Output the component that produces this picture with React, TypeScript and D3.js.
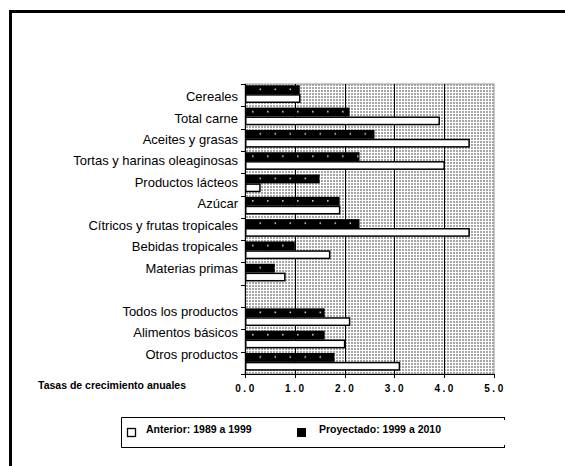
import React from "react";
import * as d3 from "d3";

const categories = [
  "Cereales",
  "Total carne",
  "Aceites y grasas",
  "Tortas y harinas oleaginosas",
  "Productos lácteos",
  "Azúcar",
  "Cítricos y frutas tropicales",
  "Bebidas tropicales",
  "Materias primas",
  "",
  "Todos los productos",
  "Alimentos básicos",
  "Otros productos",
];
const anterior: (number | null)[] = [1.1, 3.9, 4.5, 4.0, 0.3, 1.9, 4.5, 1.7, 0.8, null, 2.1, 2.0, 3.1];
const proyectado: (number | null)[] = [1.1, 2.1, 2.6, 2.3, 1.5, 1.9, 2.3, 1.0, 0.6, null, 1.6, 1.6, 1.8];
const xTicks = [0, 1, 2, 3, 4, 5];
const legendLabels = ["Anterior: 1989 a 1999", "Proyectado: 1999 a 2010"];
const axisTitle = "Tasas de crecimiento anuales";

const W = 565;
const H = 466;
const plot = { left: 245, right: 494, top: 84, bottom: 374 };

export default function App() {
  const x = d3.scaleLinear().domain([0, 5]).range([plot.left, plot.right]);
  const y = d3
    .scaleBand<number>()
    .domain(d3.range(categories.length))
    .range([plot.top, plot.bottom])
    .padding(0);
  const step = y.step();
  const sub = d3.scaleBand<string>().domain(["p", "a"]).range([1.3, 19]).padding(0);
  const labelY = d3
    .scalePoint<number>()
    .domain(d3.range(categories.length))
    .range([96.5, 354]);
  const font = "Liberation Sans, Arial, sans-serif";

  return (
    <svg
      width={W}
      height={H}
      style={{ position: "absolute", left: 0, top: 0, background: "#fff" }}
      fontFamily={font}
    >
      <defs>
        <pattern id="bg" patternUnits="userSpaceOnUse" x={0} y={0} width={3} height={3}>
          <rect width={3} height={3} fill="#fff" />
          <rect width={2} height={2} fill="#a6a6a6" />
        </pattern>
        <pattern
          id="dk"
          patternUnits="userSpaceOnUse"
          x={plot.left}
          y={plot.top}
          width={15}
          height={step * 2}
        >
          <rect width={15} height={step * 2} fill="#000" />
          <rect x={-0.5} y={4.5} width={1.6} height={1.6} fill="#c8c8c8" />
          <rect x={14.5} y={4.5} width={1.6} height={1.6} fill="#c8c8c8" />
          <rect x={7} y={4.5 + step} width={1.6} height={1.6} fill="#c8c8c8" />
        </pattern>
      </defs>

      {/* outer frame */}
      <path d={`M10.5,${H} V11.5 H${W}`} fill="none" stroke="#000" strokeWidth={3} />

      {/* plot background */}
      <rect
        x={plot.left}
        y={plot.top}
        width={plot.right - plot.left}
        height={plot.bottom - plot.top}
        fill="url(#bg)"
        stroke="#9a9a9a"
        strokeWidth={1}
      />

      {/* gridlines */}
      {xTicks.slice(1, -1).map((t) => (
        <line
          key={t}
          x1={Math.round(x(t)) + 0.5}
          x2={Math.round(x(t)) + 0.5}
          y1={plot.top}
          y2={plot.bottom}
          stroke="#000"
          strokeWidth={1}
        />
      ))}

      {/* bars */}
      {categories.map((c, i) => {
        const top = y(i)!;
        const p = proyectado[i];
        const a = anterior[i];
        return (
          <g key={i}>
            {p != null && (
              <rect
                x={x(0)}
                y={top + sub("p")!}
                width={x(p) - x(0)}
                height={sub.bandwidth()}
                fill="url(#dk)"
              />
            )}
            {a != null && (
              <rect
                x={x(0) + 0.75}
                y={top + sub("a")! + 0.75}
                width={x(a) - x(0) - 0.75}
                height={sub.bandwidth() - 1.5}
                fill="#fff"
                stroke="#000"
                strokeWidth={1.5}
              />
            )}
          </g>
        );
      })}

      {/* y axis */}
      <line x1={plot.left + 0.5} x2={plot.left + 0.5} y1={plot.top} y2={plot.bottom} stroke="#000" />
      {d3.range(categories.length + 1).map((i) => {
        const yy = Math.round(plot.top + i * step) + 0.5;
        return <line key={i} x1={plot.left - 4} x2={plot.left} y1={yy} y2={yy} stroke="#000" />;
      })}
      {categories.map((c, i) => (
        <text
          key={i}
          x={238}
          y={labelY(i)! + 4.6}
          textAnchor="end"
          fontSize={13}
          fill="#000"
        >
          {c}
        </text>
      ))}

      {/* x axis */}
      <line x1={plot.left} x2={plot.right} y1={plot.bottom + 0.5} y2={plot.bottom + 0.5} stroke="#000" />
      {xTicks.map((t) => (
        <g key={t}>
          <line
            x1={Math.round(x(t)) + 0.5}
            x2={Math.round(x(t)) + 0.5}
            y1={plot.bottom}
            y2={plot.bottom + 4}
            stroke="#000"
          />
          <text
            x={x(t) + 1}
            y={392}
            textAnchor="middle"
            fontSize={10}
            fontWeight="bold"
            letterSpacing={2.5}
          >
            {t.toFixed(1)}
          </text>
        </g>
      ))}
      <text x={38} y={389} fontSize={10.5} fontWeight="bold">
        {axisTitle}
      </text>

      {/* legend */}
      <path d="M505,417.5 H121.5 V447.5 H505" fill="none" stroke="#000" strokeWidth={1} />
      <line x1={504.5} x2={504.5} y1={417} y2={420} stroke="#000" />
      <line x1={504.5} x2={504.5} y1={445} y2={448} stroke="#000" />
      <rect x={127.5} y={428.5} width={8} height={8} fill="#fff" stroke="#000" strokeWidth={1.3} />
      <text x={146} y={432.5} fontSize={10.5} fontWeight="bold">
        {legendLabels[0]}
      </text>
      <rect x={297} y={428} width={9} height={9} fill="#000" />
      <text x={319} y={432.5} fontSize={10.5} fontWeight="bold">
        {legendLabels[1]}
      </text>
    </svg>
  );
}
